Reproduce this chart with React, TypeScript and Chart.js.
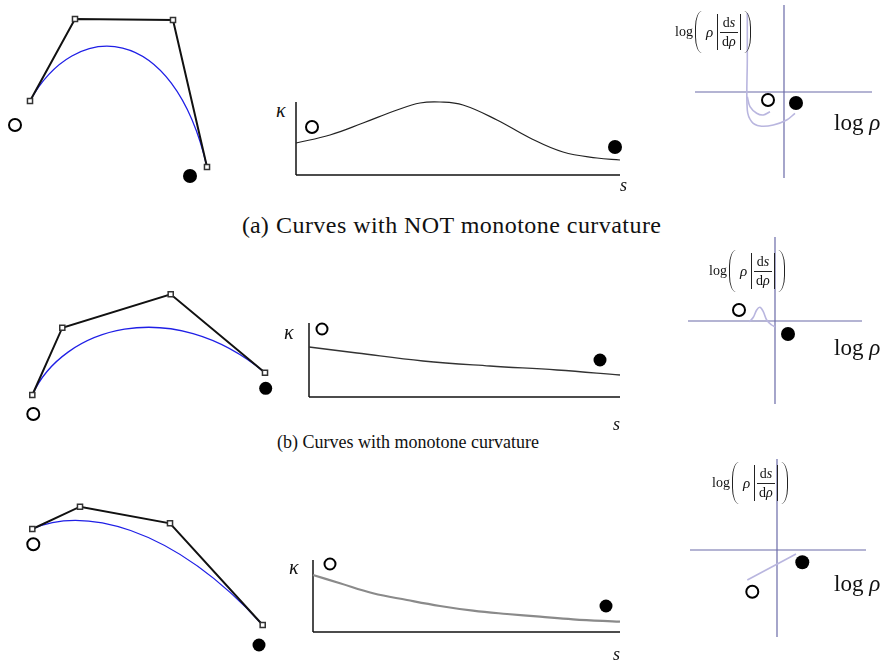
import React, { useEffect, useRef } from "react";
import { Chart, registerables } from "chart.js";
Chart.register(...registerables);

type P = { x: number; y: number };

// ---------- (a) NOT monotone ----------
const ctrlA: P[] = [{ x: 25, y: 89 }, { x: 70, y: 171 }, { x: 168, y: 170 }, { x: 202, y: 23 }];
const ctrlStartA: P = { x: 10, y: 65 };
const ctrlEndA: P = { x: 185, y: 14 };

const arcA = [0, 34, 67, 101, 124, 144, 167, 201, 234, 267, 301, 324];
const kappaA = [32, 40, 52, 65, 72, 73, 70, 55, 37, 23, 17, 15];
const kStartA: P = { x: 16, y: 48 };
const kEndA: P = { x: 319, y: 28 };

const logOuterA: P[] = [
  { x: -36.7, y: 79 }, { x: -36.7, y: 32 }, { x: -36.7, y: -18 }, { x: -32.3, y: -29.7 },
  { x: -24, y: -34 }, { x: -10.7, y: -33 }, { x: 2.7, y: -28 }, { x: 11, y: -21.3 },
];
const logInnerA: P[] = [
  { x: -36.7, y: -4.7 }, { x: -34, y: -14.7 }, { x: -27.3, y: -21.3 }, { x: -20.7, y: -23 }, { x: -14, y: -19.7 },
];
const logStartA: P = { x: -16, y: -8 };
const logEndA: P = { x: 12, y: -11 };

// ---------- (b) monotone ----------
const ctrlB: P[] = [{ x: 27.3, y: 35 }, { x: 57.3, y: 102.3 }, { x: 165.7, y: 135.7 }, { x: 260, y: 57.3 }];
const ctrlStartB: P = { x: 28.3, y: 16 };
const ctrlEndB: P = { x: 260.7, y: 41.7 };

const arcB = [0, 48, 114, 181, 248, 311];
const kappaB = [50, 44, 36, 31, 27, 22];
const kStartB: P = { x: 13, y: 68 };
const kEndB: P = { x: 291, y: 37 };

const logCurveB: P[] = [
  { x: -25.7, y: -0.7 }, { x: -21.7, y: 3.7 }, { x: -18.3, y: 11 }, { x: -15, y: 13.7 },
  { x: -11.7, y: 9.3 }, { x: -8.3, y: 1 }, { x: -3.3, y: -4 }, { x: 0, y: -5.7 },
];
const logStartB: P = { x: -36, y: 11 };
const logEndB: P = { x: 13, y: -13 };

// ---------- (c) monotone ----------
const ctrlC: P[] = [{ x: 27.3, y: 131 }, { x: 75, y: 153.3 }, { x: 165, y: 136.7 }, { x: 257.7, y: 35 }];
const ctrlStartC: P = { x: 28.3, y: 115.7 };
const ctrlEndC: P = { x: 254, y: 15 };

const arcC = [0, 27, 60, 94, 127, 160, 194, 227, 260, 307];
const kappaC = [57, 48.7, 38.7, 32, 26, 21.3, 18, 15.3, 12.7, 10.3];
const kStartC: P = { x: 17, y: 68 };
const kEndC: P = { x: 293, y: 26 };

const logCurveC: P[] = [{ x: -29.7, y: -30 }, { x: 19, y: -4 }];
const logStartC: P = { x: -24.7, y: -41.7 };
const logEndC: P = { x: 25.3, y: -12.3 };

// ---------- helpers ----------
const zip = (xs: number[], ys: number[]): P[] => xs.map((x, i) => ({ x, y: ys[i] }));

const lineDs = (data: P[], color: string, width: number, tension = 0, order = 1, dash: number[] = []) => ({
  data, showLine: true, borderColor: color, backgroundColor: color, borderWidth: width,
  pointRadius: 0, tension, order, clip: false as any, borderDash: dash,
});
const openDs = (p: P, r = 6) => ({
  data: [p], showLine: false, pointRadius: r, pointBorderWidth: 2,
  pointBorderColor: "#000", pointBackgroundColor: "#fff", borderColor: "#000", backgroundColor: "#fff",
  order: 0, clip: false as any,
});
const filledDs = (p: P, r = 6.5) => ({
  data: [p], showLine: false, pointRadius: r, pointBorderWidth: 0,
  pointBorderColor: "#000", pointBackgroundColor: "#000", borderColor: "#000", backgroundColor: "#000",
  order: 0, clip: false as any,
});
const polyDs = (pts: P[]) => ({
  data: pts, showLine: true, borderColor: "#111", borderWidth: 2, tension: 0,
  pointStyle: "rect", pointRadius: 3.6, pointBorderWidth: 1.5,
  pointBorderColor: "#333", pointBackgroundColor: "#fff", order: 1, clip: false as any,
});
const AXIS = "#6b6ba8";
const LOGCURVE = "#b9b6df";

const bezierPlugin = (pts: P[]) => ({
  id: "bezier",
  beforeDatasetsDraw(chart: any) {
    const { ctx, scales } = chart;
    const q = pts.map((p) => [scales.x.getPixelForValue(p.x), scales.y.getPixelForValue(p.y)]);
    ctx.save();
    ctx.strokeStyle = "#1f1fe6";
    ctx.lineWidth = 1.3;
    ctx.beginPath();
    ctx.moveTo(q[0][0], q[0][1]);
    ctx.bezierCurveTo(q[1][0], q[1][1], q[2][0], q[2][1], q[3][0], q[3][1]);
    ctx.stroke();
    ctx.restore();
  },
});

type Box = { left: number; top: number; w: number; h: number };

function Plot({ box, xr, yr, datasets, bezier }: { box: Box; xr: [number, number]; yr: [number, number]; datasets: any[]; bezier?: P[] }) {
  const ref = useRef<HTMLCanvasElement>(null);
  useEffect(() => {
    const chart = new Chart(ref.current as HTMLCanvasElement, {
      type: "scatter",
      data: { datasets },
      options: {
        animation: false,
        responsive: false,
        maintainAspectRatio: false,
        events: [],
        layout: { padding: 0, autoPadding: false },
        plugins: { legend: { display: false }, tooltip: { enabled: false } },
        scales: {
          x: { type: "linear", min: xr[0], max: xr[1], display: false },
          y: { type: "linear", min: yr[0], max: yr[1], display: false },
        },
      } as any,
      plugins: bezier ? [bezierPlugin(bezier)] : [],
    });
    return () => chart.destroy();
  }, []);
  return (
    <canvas
      ref={ref}
      width={box.w}
      height={box.h}
      style={{ position: "absolute", left: box.left, top: box.top, width: box.w, height: box.h }}
    />
  );
}

const SERIF = "'Liberation Serif', 'DejaVu Serif', serif";

function Txt({ x, y, children, size = 20, italic = false, style = {} }: any) {
  return (
    <div style={{ position: "absolute", left: x, top: y, fontFamily: SERIF, fontSize: size, fontStyle: italic ? "italic" : "normal", lineHeight: 1, whiteSpace: "pre", color: "#111", ...style }}>
      {children}
    </div>
  );
}

function LogLabel({ x, y }: { x: number; y: number }) {
  const paren = (left: boolean) => (
    <span style={{
      display: "inline-block", width: 6, height: 42,
      borderLeft: left ? "1.2px solid #222" : "none",
      borderRight: left ? "none" : "1.2px solid #222",
      borderRadius: left ? "9px 0 0 9px / 21px 0 0 21px" : "0 9px 9px 0 / 0 21px 21px 0",
      margin: left ? "0 2px 0 2px" : "0 0 0 1px",
    }} />
  );
  const bar = <span style={{ display: "inline-block", width: 0, height: 36, borderLeft: "1.2px solid #222", margin: "0 2px" }} />;
  return (
    <div style={{ position: "absolute", left: x, top: y, display: "flex", alignItems: "center", fontFamily: SERIF, fontSize: 14, color: "#111", lineHeight: 1 }}>
      <span>log</span>
      {paren(true)}
      <span style={{ fontStyle: "italic", fontSize: 15, margin: "0 2px" }}>ρ</span>
      {bar}
      <span style={{ display: "inline-flex", flexDirection: "column", alignItems: "center" }}>
        <span style={{ padding: "0 2px 2px" }}>d<i>s</i></span>
        <span style={{ borderTop: "1px solid #222", padding: "2px 2px 0" }}>d<i>ρ</i></span>
      </span>
      {bar}
      {paren(false)}
    </div>
  );
}

export default function App() {
  const s = (arr: number[], k: number[]) => zip(arr, k);
  return (
    <div style={{ position: "absolute", left: 0, top: 0, width: 885, height: 667, background: "#fff", overflow: "hidden" }}>
      {/* (a) */}
      <Plot box={{ left: 5, top: 5, w: 240, h: 185 }} xr={[0, 240]} yr={[0, 185]} bezier={ctrlA}
        datasets={[polyDs(ctrlA), openDs(ctrlStartA), filledDs(ctrlEndA, 7)]} />
      <Plot box={{ left: 290, top: 95, w: 340, h: 85 }} xr={[-6, 334]} yr={[-5, 80]}
        datasets={[
          lineDs([{ x: 0, y: 0 }, { x: 0, y: 73 }], "#111", 1.5, 0, 2),
          lineDs([{ x: 0, y: 0 }, { x: 324, y: 0 }], "#111", 1.5, 0, 2),
          lineDs(s(arcA, kappaA), "#222", 1.2, 0.4),
          openDs(kStartA), filledDs(kEndA, 7),
        ]} />
      <Plot box={{ left: 690, top: 0, w: 190, h: 185 }} xr={[-94, 96]} yr={[-93, 92]}
        datasets={[
          lineDs([{ x: -89, y: 0 }, { x: 88, y: 0 }], AXIS, 1.2, 0, 2),
          lineDs([{ x: 0, y: 87 }, { x: 0, y: -86 }], AXIS, 1.2, 0, 2),
          lineDs(logOuterA, LOGCURVE, 1.6, 0.35),
          lineDs(logInnerA, LOGCURVE, 1.6, 0.35),
          openDs(logStartA), filledDs(logEndA, 7),
        ]} />

      {/* (b) */}
      <Plot box={{ left: 5, top: 270, w: 280, h: 160 }} xr={[0, 280]} yr={[0, 160]} bezier={ctrlB}
        datasets={[polyDs(ctrlB), openDs(ctrlStartB), filledDs(ctrlEndB, 6.5)]} />
      <Plot box={{ left: 300, top: 305, w: 330, h: 100 }} xr={[-9, 321]} yr={[-8, 92]}
        datasets={[
          lineDs([{ x: 0, y: 0 }, { x: 0, y: 74 }], "#111", 1.5, 0, 2),
          lineDs([{ x: 0, y: 0 }, { x: 311, y: 0 }], "#111", 1.5, 0, 2),
          lineDs(s(arcB, kappaB), "#333", 1.3, 0.4),
          openDs(kStartB, 5.5), filledDs(kEndB, 6.5),
        ]} />
      <Plot box={{ left: 680, top: 230, w: 190, h: 180 }} xr={[-95, 95]} yr={[-89, 91]}
        datasets={[
          lineDs([{ x: -87, y: 0 }, { x: 87, y: 0 }], AXIS, 1.2, 0, 2),
          lineDs([{ x: 0, y: 84 }, { x: 0, y: -83 }], AXIS, 1.2, 0, 2),
          lineDs(logCurveB, LOGCURVE, 1.6, 0.35),
          openDs(logStartB), filledDs(logEndB, 7),
        ]} />

      {/* (c) */}
      <Plot box={{ left: 5, top: 490, w: 280, h: 170 }} xr={[0, 280]} yr={[0, 170]} bezier={ctrlC}
        datasets={[polyDs(ctrlC), openDs(ctrlStartC), filledDs(ctrlEndC, 6.5)]} />
      <Plot box={{ left: 300, top: 540, w: 330, h: 100 }} xr={[-13, 317]} yr={[-8, 92]}
        datasets={[
          lineDs([{ x: 0, y: 0 }, { x: 0, y: 72 }], "#111", 1.5, 0, 2),
          lineDs([{ x: 0, y: 0 }, { x: 307, y: 0 }], "#111", 1.5, 0, 2),
          lineDs(s(arcC, kappaC), "#8a8a8a", 2.2, 0.4),
          openDs(kStartC, 5.5), filledDs(kEndC, 6.5),
        ]} />
      <Plot box={{ left: 680, top: 450, w: 190, h: 200 }} xr={[-97, 93]} yr={[-100, 100]}
        datasets={[
          lineDs([{ x: -87, y: 0 }, { x: 89, y: 0 }], AXIS, 1.2, 0, 2),
          lineDs([{ x: 0, y: 91 }, { x: 0, y: -87 }], AXIS, 1.2, 0, 2),
          lineDs(logCurveC, LOGCURVE, 1.6, 0),
          openDs(logStartC), filledDs(logEndC, 7),
        ]} />

      {/* text */}
      <Txt x={276} y={100} italic size={20}>κ</Txt>
      <Txt x={620} y={176} italic size={18}>s</Txt>
      <LogLabel x={675} y={11} />
      <Txt x={834} y={111} size={23}>log <i>ρ</i></Txt>
      <Txt x={242} y={213} size={24}>(a)</Txt>
      <Txt x={276} y={213} size={24} style={{ letterSpacing: 0.45 }}>Curves with NOT monotone curvature</Txt>

      <Txt x={284} y={322} italic size={20}>κ</Txt>
      <Txt x={613} y={415} italic size={18}>s</Txt>
      <LogLabel x={709} y={250} />
      <Txt x={834} y={336} size={23}>log <i>ρ</i></Txt>
      <Txt x={277} y={433} size={18}>(b) Curves with monotone curvature</Txt>

      <Txt x={289} y={557} italic size={20}>κ</Txt>
      <Txt x={613} y={645} italic size={18}>s</Txt>
      <LogLabel x={712} y={462} />
      <Txt x={834} y={572} size={23}>log <i>ρ</i></Txt>
    </div>
  );
}
